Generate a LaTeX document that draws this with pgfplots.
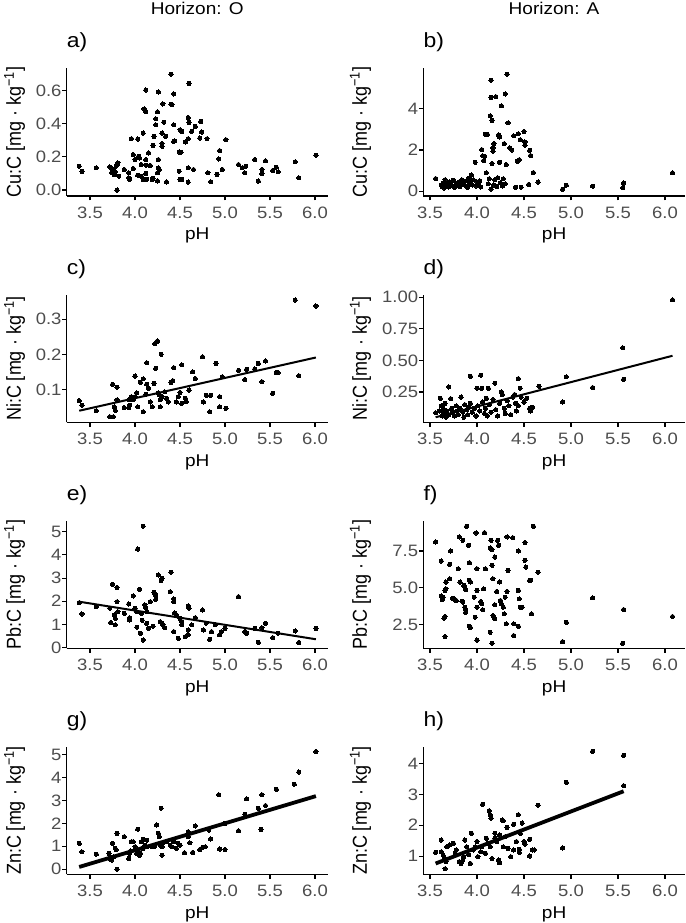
\documentclass[border=0pt]{standalone}
\usepackage{fontspec}
\usepackage{graphicx}
\usepackage{pgfplots}
\pgfplotsset{compat=1.18}
\setmainfont{Liberation Sans}
\newfontfamily\stretchsans{Liberation Sans}[FakeStretch=1.12]
\definecolor{tickgray}{HTML}{4D4D4D}
\newcommand\tickf{\stretchsans\fontsize{16.5}{18}\selectfont}
\newcommand\labelf{\stretchsans\fontsize{17}{19}\selectfont}
\newcommand\tagf{\stretchsans\fontsize{20.5}{22}\selectfont}
\newcommand\ylabf{\fontsize{18}{20}\selectfont}
\newcommand\ylab[1]{\scalebox{1}[1.12]{\ylabf #1 [mg · kg\textsuperscript{−1}]}}
\pgfplotsset{
  panel/.style={
    height=127.5pt, scale only axis, anchor=south west,
    axis x line*=bottom, axis y line*=left,
    axis line style={-, line width=1.3pt, black},
    tick align=outside, major tick length=4.5pt,
    tick style={black, line width=1.1pt},
    xtick={3.5,4.0,4.5,5.0,5.5,6.0},
    /pgf/number format/assume math mode=true,
    xticklabel style={font=\tickf, text=tickgray, yshift=-3pt,
      /pgf/number format/fixed, /pgf/number format/fixed zerofill, /pgf/number format/precision=1},
    yticklabel style={font=\tickf, text=tickgray, inner xsep=0.5pt},
    xlabel={pH},
    xlabel style={font=\labelf, at={(axis description cs:0.5,0)}, anchor=base, yshift=-44pt},
    title style={font=\tagf, at={(axis description cs:0,1)}, anchor=base west, yshift=14.5pt, inner sep=0pt},
    clip=false,
  },
  colO/.style={panel, width=261pt, xmin=3.241, xmax=6.141,
    ylabel style={at={(axis description cs:-0.2,0.5)}, anchor=center}},
  colA/.style={panel, width=261.7pt, xmin=3.429, xmax=6.213,
    ylabel style={at={(axis description cs:-0.24,0.5)}, anchor=center}},
  pts/.style={only marks, mark=*, mark size=2.1pt, black, mark options={line width=0pt}},
  fit/.style={no marks, black, line width=#1},
  y1/.style={yticklabel style={/pgf/number format/fixed, /pgf/number format/fixed zerofill, /pgf/number format/precision=1}},
  y2/.style={yticklabel style={/pgf/number format/fixed, /pgf/number format/fixed zerofill, /pgf/number format/precision=2}},
}
\begin{document}
\begin{tikzpicture}
\useasboundingbox (0pt,0pt) rectangle (685pt,923pt);
\node[anchor=base, font=\labelf] at (197.2pt,908pt) {Horizon: O};
\node[anchor=base, font=\labelf] at (554pt,908pt) {Horizon: A};

% a) Cu O
\begin{axis}[colO, at={(66.7pt,727pt)}, title={a)}, ylabel={\ylab{Cu:C}},
  ymin=-0.036, ymax=0.734, ytick={0,0.2,0.4,0.6}, y1]
\addplot[pts] table {
3.38 0.144
3.41 0.112
3.57 0.134
3.72 0.140
3.74 0.130
3.76 0.120
3.78 0.110
3.74 0.104
3.80 0.150
3.77 0.094
3.79 0.144
3.81 0.164
3.80 0.000
3.82 0.084
3.88 0.124
3.93 0.104
3.93 0.074
3.94 0.064
3.96 0.310
3.98 0.214
3.98 0.130
4.00 0.184
4.03 0.308
4.04 0.204
4.05 0.194
4.07 0.084
4.03 0.090
4.09 0.344
4.10 0.490
4.12 0.474
4.12 0.604
4.12 0.100
4.13 0.064
4.09 0.064
4.12 0.150
4.07 0.154
4.12 0.184
4.15 0.224
4.17 0.148
4.19 0.064
4.20 0.070
4.21 0.324
4.20 0.270
4.23 0.394
4.23 0.430
4.25 0.472
4.26 0.592
4.26 0.184
4.26 0.134
4.27 0.124
4.25 0.104
4.25 0.054
4.30 0.280
4.30 0.264
4.30 0.344
4.31 0.520
4.32 0.410
4.34 0.324
4.35 0.048
4.40 0.518
4.41 0.516
4.40 0.700
4.43 0.580
4.43 0.394
4.43 0.294
4.44 0.296
4.49 0.230
4.51 0.228
4.50 0.364
4.52 0.354
4.49 0.114
4.50 0.064
4.52 0.064
4.56 0.290
4.59 0.438
4.59 0.310
4.60 0.408
4.59 0.134
4.60 0.644
4.59 0.048
4.63 0.354
4.65 0.124
4.67 0.384
4.73 0.414
4.74 0.350
4.72 0.314
4.80 0.310
4.81 0.104
4.84 0.050
4.91 0.094
4.93 0.188
4.94 0.238
4.97 0.124
5.01 0.304
5.15 0.154
5.19 0.134
5.22 0.104
5.23 0.144
5.33 0.184
5.37 0.054
5.41 0.124
5.41 0.098
5.45 0.176
5.53 0.118
5.57 0.138
5.59 0.110
5.78 0.170
5.82 0.074
6.01 0.210
};
\end{axis}

% b) Cu A
\begin{axis}[colA, at={(423.3pt,727pt)}, title={b)}, ylabel={\ylab{Cu:C}},
  ymin=-0.24, ymax=5.97, ytick={0,2,4}]
\addplot[pts] table {
3.56 0.61
3.62 0.30
3.63 0.22
3.64 0.40
3.65 0.15
3.66 0.55
3.67 0.28
3.68 0.35
3.70 0.20
3.71 0.45
3.72 0.30
3.74 0.25
3.75 0.52
3.76 0.18
3.78 0.38
3.80 0.28
3.81 0.45
3.82 0.22
3.84 0.55
3.85 0.32
3.86 0.40
3.88 0.25
3.89 0.50
3.90 0.18
3.91 0.62
3.92 0.35
3.93 0.45
3.94 0.78
3.95 0.30
3.96 0.55
3.98 1.40
3.99 0.25
4.00 0.45
4.02 0.35
4.03 0.50
4.04 0.20
4.05 2.02
4.06 1.72
4.07 1.48
4.08 1.70
4.09 2.77
4.11 2.77
4.10 0.89
4.12 0.35
4.13 0.60
4.15 4.56
4.15 5.40
4.14 3.66
4.16 3.44
4.17 2.10
4.18 2.31
4.17 1.94
4.16 1.34
4.15 0.10
4.18 0.30
4.19 0.55
4.20 4.60
4.21 0.22
4.22 0.65
4.23 2.74
4.24 2.63
4.24 1.40
4.26 4.15
4.25 0.40
4.27 0.25
4.28 0.60
4.29 2.31
4.30 4.73
4.32 5.69
4.33 3.32
4.31 1.29
4.30 0.35
4.35 2.10
4.37 2.00
4.39 2.69
4.41 0.19
4.43 1.45
4.45 1.53
4.44 2.79
4.46 2.50
4.47 0.19
4.50 2.90
4.51 2.39
4.51 2.24
4.56 1.98
4.57 1.73
4.60 0.90
4.55 0.32
4.65 0.44
4.91 0.08
4.95 0.29
5.23 0.24
5.56 0.39
5.55 0.16
6.08 0.89
};
\end{axis}

% c) Ni O
\begin{axis}[colO, at={(66.7pt,500.7pt)}, title={c)}, ylabel={\ylab{Ni:C}},
  ymin=0.006, ymax=0.37, ytick={0.1,0.2,0.3}, y1]
\addplot[pts] table {
3.38 0.068
3.41 0.055
3.57 0.039
3.72 0.022
3.76 0.022
3.75 0.114
3.77 0.050
3.78 0.040
3.80 0.106
3.80 0.070
3.88 0.048
3.93 0.048
3.94 0.055
3.93 0.070
3.96 0.079
3.98 0.070
4.00 0.079
4.02 0.090
4.00 0.138
4.03 0.050
4.06 0.120
4.09 0.130
4.13 0.176
4.09 0.036
4.13 0.115
4.15 0.103
4.12 0.086
4.19 0.050
4.17 0.064
4.21 0.117
4.22 0.230
4.24 0.236
4.23 0.160
4.25 0.238
4.28 0.070
4.30 0.079
4.26 0.090
4.27 0.084
4.29 0.200
4.28 0.050
4.33 0.093
4.35 0.074
4.37 0.064
4.40 0.120
4.42 0.125
4.43 0.162
4.46 0.064
4.48 0.079
4.50 0.091
4.52 0.170
4.52 0.060
4.56 0.074
4.57 0.065
4.60 0.098
4.64 0.150
4.67 0.131
4.75 0.193
4.76 0.064
4.79 0.083
4.83 0.036
4.84 0.083
4.90 0.174
4.94 0.079
4.94 0.050
4.97 0.136
5.01 0.046
5.15 0.154
5.22 0.128
5.24 0.157
5.33 0.158
5.37 0.174
5.41 0.122
5.45 0.181
5.53 0.089
5.57 0.148
5.59 0.148
5.78 0.355
5.82 0.139
6.01 0.338
};
\addplot[fit=2pt] coordinates {(3.38,0.039) (6.01,0.191)};
\end{axis}

% d) Ni A
\begin{axis}[colA, at={(423.3pt,500.7pt)}, title={d)}, ylabel={\ylab{Ni:C}},
  ymin=0.01, ymax=1.02, ytick={0.25,0.5,0.75,1}, y2]
\addplot[pts] table {
3.56 0.085
3.60 0.10
3.61 0.20
3.62 0.14
3.63 0.06
3.64 0.12
3.65 0.08
3.66 0.16
3.67 0.05
3.68 0.10
3.70 0.29
3.70 0.07
3.72 0.197
3.73 0.12
3.74 0.09
3.76 0.06
3.78 0.14
3.79 0.10
3.80 0.07
3.82 0.12
3.83 0.21
3.85 0.09
3.86 0.05
3.87 0.15
3.89 0.11
3.90 0.07
3.91 0.13
3.93 0.375
3.93 0.16
3.95 0.09
3.97 0.12
3.99 0.06
4.00 0.28
4.01 0.14
4.03 0.10
4.04 0.383
4.05 0.28
4.06 0.17
4.08 0.08
4.09 0.12
4.10 0.20
4.11 0.06
4.12 0.28
4.13 0.15
4.15 0.09
4.17 0.19
4.19 0.32
4.20 0.11
4.22 0.06
4.24 0.16
4.26 0.25
4.27 0.23
4.29 0.12
4.30 0.08
4.32 0.18
4.34 0.14
4.36 0.07
4.38 0.21
4.40 0.23
4.41 0.16
4.42 0.10
4.44 0.356
4.44 0.14
4.46 0.28
4.47 0.21
4.50 0.17
4.53 0.20
4.56 0.12
4.57 0.10
4.59 0.13
4.66 0.295
4.91 0.17
4.95 0.37
5.23 0.285
5.55 0.60
5.56 0.35
6.08 0.98
};
\addplot[fit=2pt] coordinates {(3.56,0.05) (6.08,0.537)};
\end{axis}

% e) Pb O
\begin{axis}[colO, at={(66.7pt,274.7pt)}, title={e)}, ylabel={\ylab{Pb:C}},
  ymin=-0.03, ymax=5.47, ytick={0,1,2,3,4,5}]
\addplot[pts] table {
3.38 1.94
3.41 1.45
3.57 1.77
3.72 1.70
3.73 1.08
3.75 2.73
3.77 1.41
3.78 1.26
3.78 0.98
3.80 2.59
3.80 1.98
3.81 1.55
3.88 1.48
3.93 1.88
3.94 1.29
3.94 1.19
3.98 2.23
4.00 1.70
4.02 1.55
4.03 4.25
4.05 2.51
4.02 0.88
4.06 0.62
4.07 1.48
4.08 1.18
4.09 5.24
4.09 0.33
4.11 1.84
4.12 1.72
4.13 1.05
4.15 0.84
4.13 1.55
4.17 1.98
4.20 0.92
4.21 2.38
4.23 2.26
4.23 2.08
4.26 3.13
4.29 2.90
4.30 2.99
4.28 1.12
4.30 1.05
4.31 0.98
4.33 0.86
4.39 2.41
4.40 3.25
4.43 2.10
4.43 1.98
4.43 0.69
4.44 1.49
4.46 1.41
4.48 0.40
4.50 1.26
4.52 1.12
4.52 0.98
4.56 0.47
4.59 1.80
4.60 1.70
4.59 0.76
4.59 0.55
4.63 0.98
4.67 1.29
4.75 1.62
4.76 0.76
4.79 1.05
4.83 0.36
4.85 0.69
4.89 0.98
4.94 0.55
4.96 0.69
5.00 0.83
5.15 2.20
5.22 0.69
5.24 0.62
5.33 0.83
5.37 0.23
5.41 0.86
5.45 1.05
5.53 0.43
5.59 0.62
5.78 0.72
5.82 0.22
6.01 0.83
};
\addplot[fit=2pt] coordinates {(3.38,1.98) (6.01,0.36)};
\end{axis}

% f) Pb A
\begin{axis}[colA, at={(423.3pt,274.7pt)}, title={f)}, ylabel={\ylab{Pb:C}},
  ymin=0.92, ymax=9.54, ytick={2.5,5,7.5}, y1]
\addplot[pts] table {
3.56 8.11
3.62 6.82
3.62 4.45
3.63 4.22
3.64 4.38
3.65 2.95
3.66 3.07
3.66 1.71
3.66 4.83
3.67 4.94
3.67 5.40
3.72 7.50
3.71 6.60
3.71 5.62
3.74 4.31
3.77 4.20
3.78 4.15
3.81 8.45
3.80 6.30
3.82 5.40
3.84 4.11
3.85 4.04
3.85 8.22
3.86 5.17
3.87 5.06
3.88 4.88
3.87 3.70
3.88 3.54
3.88 3.36
3.89 9.17
3.91 7.88
3.92 6.71
3.92 5.51
3.93 5.40
3.92 2.41
3.93 2.32
3.97 4.38
3.98 3.02
3.99 8.72
4.00 6.30
4.00 4.83
4.00 3.70
4.00 1.48
4.04 4.08
4.05 3.93
4.06 3.52
4.07 4.94
4.08 8.74
4.09 6.30
4.14 2.00
4.15 8.22
4.16 7.59
4.14 7.70
4.16 6.53
4.16 1.26
4.17 5.62
4.17 3.13
4.18 3.02
4.19 2.91
4.19 3.86
4.19 7.09
4.21 4.76
4.22 8.22
4.23 7.88
4.24 5.40
4.25 4.15
4.26 3.93
4.28 3.70
4.29 3.25
4.32 8.45
4.32 4.76
4.30 4.38
4.31 2.57
4.33 6.19
4.38 8.40
4.39 1.78
4.39 2.57
4.44 7.50
4.44 4.83
4.45 4.26
4.46 3.70
4.48 3.70
4.44 2.41
4.51 8.07
4.51 6.87
4.52 6.41
4.56 5.51
4.57 5.51
4.58 3.25
4.60 9.17
4.65 6.07
4.91 1.37
4.95 2.68
5.23 4.33
5.56 3.54
5.55 1.26
6.08 3.07
};
\end{axis}

% g) Zn O
\begin{axis}[colO, at={(66.7pt,48.7pt)}, title={g)}, ylabel={\ylab{Zn:C}},
  ymin=-0.22, ymax=5.34, ytick={0,1,2,3,4,5}]
\addplot[pts] table {
3.38 1.13
3.41 0.76
3.57 0.66
3.71 0.69
3.72 0.47
3.74 0.40
3.76 0.54
3.75 1.13
3.78 0.91
3.79 0.86
3.80 1.56
3.80 0.00
3.88 1.42
3.93 0.47
3.94 0.69
3.95 0.80
3.96 1.20
3.98 1.20
4.00 0.98
4.02 0.69
4.03 1.75
4.05 0.61
4.06 0.69
4.07 1.20
4.09 1.30
4.09 0.91
4.11 1.05
4.13 1.27
4.13 0.98
4.19 0.98
4.22 1.01
4.24 1.93
4.26 1.56
4.27 1.42
4.28 1.05
4.30 0.98
4.29 2.66
4.30 0.61
4.31 1.13
4.35 1.20
4.39 1.05
4.41 0.98
4.43 1.20
4.46 0.91
4.48 1.13
4.50 1.05
4.55 0.72
4.59 1.42
4.59 1.64
4.61 1.15
4.64 0.73
4.67 1.89
4.72 0.86
4.75 0.95
4.78 0.98
4.82 1.71
4.84 1.32
4.93 3.25
4.94 0.88
5.00 2.00
5.00 0.86
5.15 1.68
5.22 2.40
5.24 3.07
5.37 2.66
5.40 1.74
5.41 3.25
5.45 2.78
5.57 3.49
5.77 3.71
5.82 4.24
6.01 5.13
};
\addplot[fit=3.8pt] coordinates {(3.38,0.10) (6.01,3.19)};
\end{axis}

% h) Zn A
\begin{axis}[colA, at={(423.3pt,48.7pt)}, title={h)}, ylabel={\ylab{Zn:C}},
  ymin=0.41, ymax=4.54, ytick={1,2,3,4}]
\addplot[pts] table {
3.56 1.12
3.62 1.52
3.62 1.14
3.64 1.03
3.66 0.92
3.67 0.82
3.66 0.59
3.68 1.30
3.71 1.36
3.75 1.41
3.77 1.09
3.78 1.20
3.81 0.82
3.83 0.76
3.85 0.87
3.86 0.98
3.87 1.52
3.89 1.30
3.91 1.05
3.93 0.76
3.94 1.74
3.96 1.20
3.98 1.30
4.00 1.47
4.01 0.98
4.04 1.14
4.05 1.30
4.06 2.68
4.09 1.09
4.10 1.58
4.12 1.41
4.14 1.30
4.13 2.47
4.14 2.34
4.15 2.23
4.16 0.92
4.19 1.74
4.19 1.58
4.21 1.47
4.23 0.87
4.24 0.78
4.24 1.68
4.27 2.17
4.28 2.14
4.28 1.30
4.30 1.63
4.32 1.93
4.33 1.25
4.36 0.98
4.39 2.03
4.39 1.20
4.42 1.47
4.44 2.34
4.45 1.22
4.45 1.12
4.46 1.74
4.48 2.07
4.50 1.47
4.51 1.39
4.56 1.00
4.56 1.54
4.59 1.20
4.61 1.20
4.65 2.65
4.91 1.26
4.95 3.39
5.23 4.39
5.56 4.26
5.56 3.28
};
\addplot[fit=3.8pt] coordinates {(3.56,0.76) (5.56,3.10)};
\end{axis}
\end{tikzpicture}
\end{document}
